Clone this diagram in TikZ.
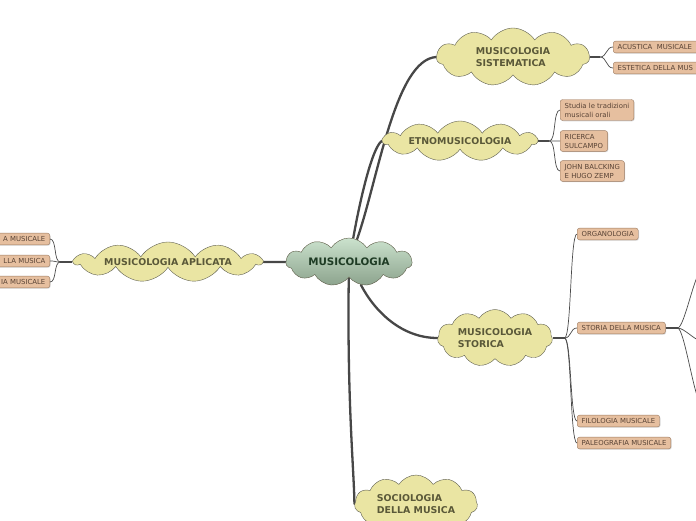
\documentclass[tikz,border=0pt]{standalone}
\usepackage{fontspec}
\setmainfont{DejaVu Sans}
\usetikzlibrary{shapes.symbols, shadows, backgrounds, calc}
\definecolor{CloudFill}{HTML}{EAE5A3}
\definecolor{CloudEdge}{HTML}{5E5E50}
\definecolor{CloudText}{HTML}{5A5838}
\definecolor{HubTop}{HTML}{CBE2CD}
\definecolor{HubBottom}{HTML}{8CA38D}
\definecolor{HubText}{HTML}{1E3B24}
\definecolor{LeafFill}{HTML}{E6BF9F}
\definecolor{LeafEdge}{HTML}{9C7B62}
\definecolor{LeafText}{HTML}{5A4436}
\definecolor{Trunk}{HTML}{474747}
\definecolor{Twig}{HTML}{4A4A4A}

\begin{document}
\begin{tikzpicture}[x=1pt, y=-1pt,
  topic/.style={cloud, cloud puffs=11, cloud puff arc=115, cloud ignores aspect,
    draw=CloudEdge, fill=CloudFill, text=CloudText, align=left, inner sep=0pt,
    font=\bfseries\fontsize{9.4}{11.5}\selectfont},
  leaf/.style={draw=LeafEdge, fill=LeafFill, rounded corners=2.5pt,
    text=LeafText, align=left, inner xsep=4.5pt, inner ysep=3.3pt,
    font=\fontsize{6.9}{9}\selectfont,
    drop shadow={shadow xshift=0.8pt, shadow yshift=-0.8pt, fill=black!30}},
  trunk/.style={draw=Trunk, line width=2.3pt, line cap=round},
  stub/.style={draw=Twig, line width=1.2pt},
  twig/.style={draw=Twig, line width=0.7pt}]
  \useasboundingbox (0,0) rectangle (696,520);
  \clip (0,0) rectangle (696,520);

  % central topic
  \node[topic, top color=HubTop, bottom color=HubBottom, text=HubText,
    font=\bfseries\fontsize{10.3}{12}\selectfont,
    minimum width=126, minimum height=48] (musicologia) at (349,262) {MUSICOLOGIA};

  % main topics
  \node[topic, minimum width=187, minimum height=40] (aplicata) at (168,262) {MUSICOLOGIA APLICATA};
  \node[topic, minimum width=153, minimum height=58] (sistematica) at (513,57) {MUSICOLOGIA\\SISTEMATICA};
  \node[topic, minimum width=154, minimum height=40] (etno) at (460,141) {ETNOMUSICOLOGIA};
  \node[topic, minimum width=115, minimum height=57] (storica) at (495,338) {MUSICOLOGIA\\STORICA};
  \node[topic, minimum width=123, minimum height=58] (sociologia) at (416,504) {SOCIOLOGIA\\DELLA MUSICA};

  % leaves, left (cut by the border)
  \node[leaf, anchor=east, text width=80, align=right] (ap1) at (50,239) {A MUSICALE};
  \node[leaf, anchor=east, text width=80, align=right] (ap2) at (50,261) {LLA MUSICA};
  \node[leaf, anchor=east, text width=80, align=right] (ap3) at (50,282) {IA MUSICALE};

  % leaves, right
  \node[leaf, anchor=west, text width=100] (acustica) at (613,47) {ACUSTICA\ \ MUSICALE};
  \node[leaf, anchor=west, text width=100] (estetica) at (613,68) {ESTETICA DELLA MUS};
  \node[leaf, anchor=west] (tradizioni) at (560,110) {Studia le tradizioni\\musicali orali};
  \node[leaf, anchor=west] (ricerca) at (560,141) {RICERCA\\SULCAMPO};
  \node[leaf, anchor=west] (zemp) at (560,171) {JOHN BALCKING\\E HUGO ZEMP};
  \node[leaf, anchor=west] (organologia) at (577,234) {ORGANOLOGIA};
  \node[leaf, anchor=west] (storiamus) at (577,328) {STORIA DELLA MUSICA};
  \node[leaf, anchor=west] (filologia) at (577,421) {FILOLOGIA MUSICALE};
  \node[leaf, anchor=west] (paleografia) at (577,443) {PALEOGRAFIA MUSICALE};

  % junctions
  \coordinate (jApl) at ($(aplicata.west)+(-12,0)$);
  \coordinate (jSis) at ($(sistematica.east)+(10,0)$);
  \coordinate (jEtno) at ($(etno.east)+(11,0)$);
  \coordinate (jSto) at ($(storica.east)+(12,0)$);
  \coordinate (jMus) at ($(storiamus.east)+(12,0)$);
  \coordinate (out1) at (702,270);
  \coordinate (out2) at (702,341);
  \coordinate (out3) at (702,405);

  \begin{scope}[on background layer]
    % main branches
    \draw[trunk] (musicologia) -- (aplicata);
    \draw[trunk] (musicologia) .. controls (378,180) and (395,60) .. (sistematica.west);
    \draw[trunk] (musicologia) .. controls (360,200) and (372,148) .. (etno.west);
    \draw[trunk] (musicologia) .. controls (375,312) and (402,338) .. (storica.west);
    \draw[trunk] (musicologia) .. controls (347,400) and (354,470) .. (sociologia.west);
  \end{scope}

  % sub branches
  \draw[stub] (aplicata.west) -- (jApl);
  \foreach \n in {ap1,ap2,ap3}
    \draw[twig] (jApl) .. controls +(-7,0) and +(7,0) .. (\n.east);

  \draw[stub] (sistematica.east) -- (jSis);
  \foreach \n in {acustica,estetica}
    \draw[twig] (jSis) .. controls +(7,0) and +(-7,0) .. (\n.west);

  \draw[stub] (etno.east) -- (jEtno);
  \foreach \n in {tradizioni,ricerca,zemp}
    \draw[twig] (jEtno) .. controls +(7,0) and +(-7,0) .. (\n.west);

  \draw[stub] (storica.east) -- (jSto);
  \foreach \n in {organologia,storiamus,filologia,paleografia}
    \draw[twig] (jSto) .. controls +(7,0) and +(-7,0) .. (\n.west);

  \draw[stub] (storiamus.east) -- (jMus);
  \foreach \n in {out1,out2,out3}
    \draw[twig] (jMus) .. controls +(7,0) and +(-7,0) .. (\n);
\end{tikzpicture}
\end{document}
